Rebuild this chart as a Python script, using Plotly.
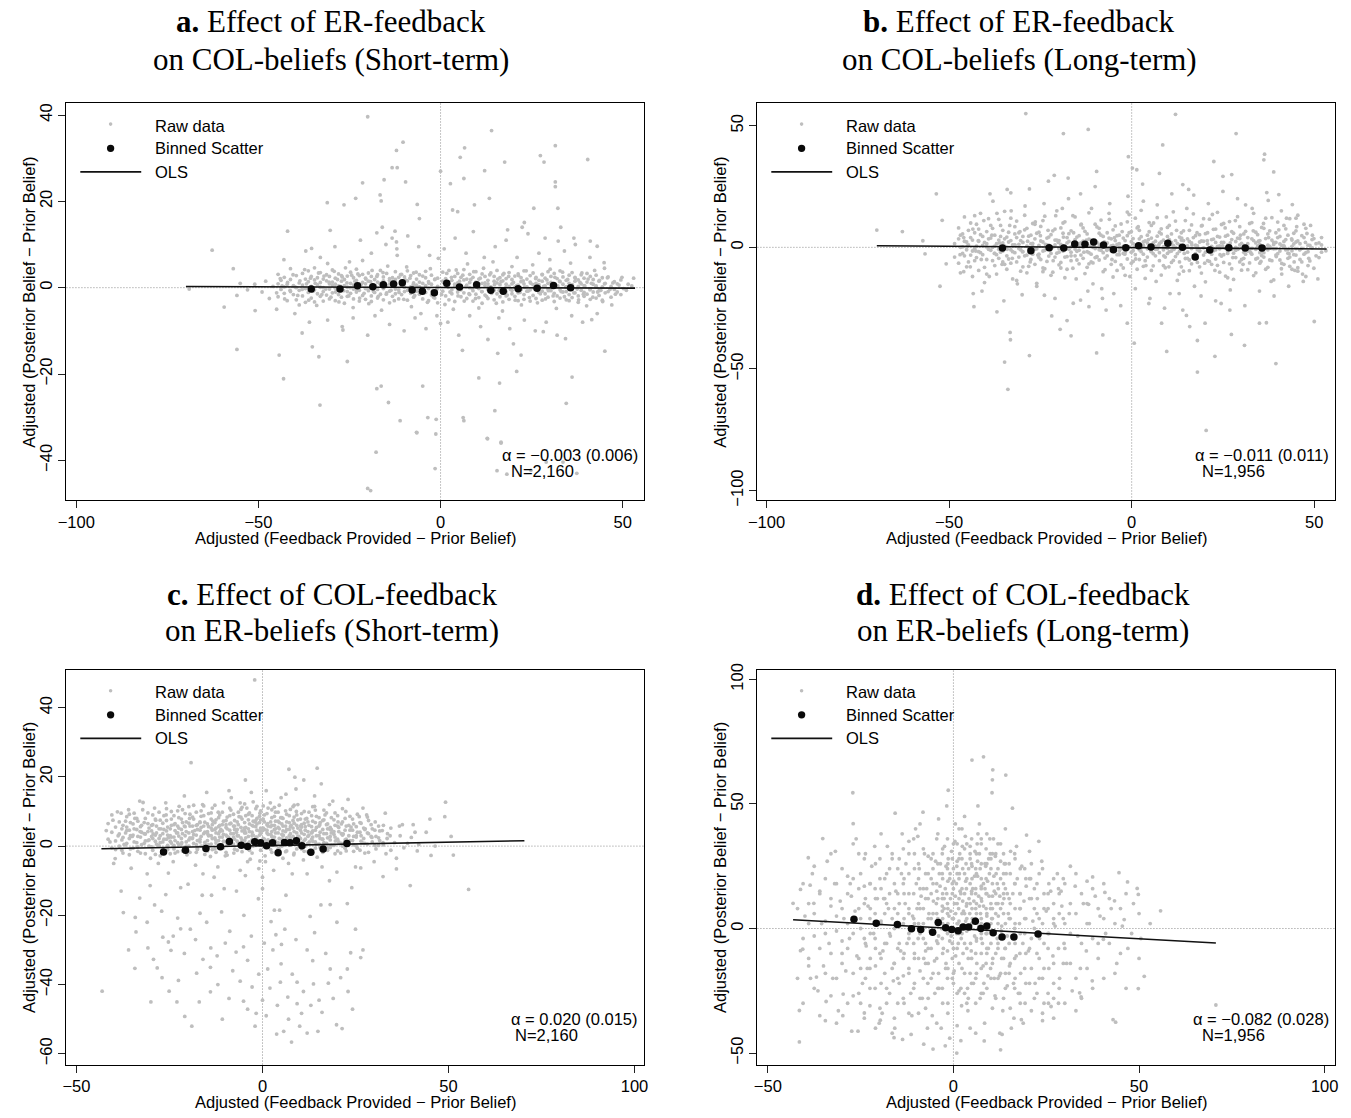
import plotly.graph_objects as go

# ================= DATA =================
# ---- Panel a: ER-feedback on COL-beliefs (Short-term) ----
bin_a_x = [-35.5, -27.6, -22.8, -18.6, -15.7, -12.9, -10.5, -7.8, -5.0, -1.7, 1.7, 5.2, 9.9, 13.8, 17.2, 21.3, 26.5, 31.0, 35.7]
bin_a_y = [-0.31, -0.31, 0.46, 0.23, 0.69, 0.84, 1.15, -0.53, -0.84, -1.15, 1.0, 0.15, 0.69, -0.61, -0.84, -0.23, -0.15, 0.53, 0.0]
ols_a_x = [-69.9, 53.4]
ols_a_y = [0.26, -0.11]
raw_a_out = [(-20.0,39.6),(-10.3,33.7),(-12.1,31.8),(6.6,32.4),(14.0,36.4),(31.5,32.9),(40.4,29.7),(27.4,30.6),(28.4,29.1),
 (17.6,29.1),(5.4,30.2),(12.1,27.1),(-13.3,27.8),(-11.9,27.8),(-21.4,24.3),(-9.6,24.5),(0.0,27.0),(6.4,25.3),(2.7,24.1),
 (-15.5,25.0),(31.5,24.5),(31.5,23.4),(-31.1,19.7),(-26.5,19.2),(-23.3,20.7),(-16.6,21.5),(-16.3,20.1),(-6.4,19.3),(13.4,20.7),
 (9.3,19.2),(32.2,18.4),(25.6,18.4),(23.0,15.1),(22.4,14.0),(-5.8,16.0),(3.3,18.0),(4.7,17.6),(-42.0,13.1),(-30.3,13.3),
 (-17.5,12.7),(-12.5,13.1),(-12.1,10.6),(-13.3,11.5),(18.4,13.4),(28.7,11.5),(32.3,10.8),(36.6,11.5),(41.1,10.8),(43.0,9.6),
 (-62.7,8.7),(-56.9,4.4),(-35.4,9.1),(44.9,5.8),(49.8,2.4),(53.0,2.2),(-69.0,-0.3),(-55.9,-1.8),(-59.4,-4.5),(-50.9,-5.3),
 (-55.9,-14.3),(-44.3,-15.6),(-43.1,-21.1),(-33.1,-27.2),(-33.4,-16.0),(-35.2,-13.7),(-25.6,-17.1),(-26.8,-9.8),(-17.5,-23.4),
 (-16.3,-22.8),(-14.3,-26.6),(-11.1,-30.8),(-17.7,-38.1),(-20.0,-46.5),(-19.2,-47.0),(-6.6,-33.5),(-4.9,-22.8),(-3.5,-30.1),(-1.2,-30.5),
 (-1.5,-41.9),(6.2,-30.1),(6.4,-30.8),(0.0,-8.3),(10.5,-20.9),(12.9,-35.0),(14.9,-28.5),(16.2,-22.1),(16.6,-35.8),(15.7,-15.2),
 (24.8,-42.3),(20.9,-19.4),(22.1,-15.6),(28.2,-10.2),(34.3,-11.8),(34.5,-26.8),(36.1,-20.7),(45.1,-14.7),(41.5,-7.4),
 (-6.5,-33.6),(-1.3,-33.9),(12.8,-34.9),(16.6,-36.0),(15.5,-42.4),(18.2,-43.2),(37.4,-43.0),(29.0,-40.4),(33.6,-40.4),
 (-55,1.0),(-53,-0.5),(-51,0.8),(-49,-1.0),(-48,1.5),(-47,-2.5),(-46,0.3)]
raw_a_core = [(-45,-1.2),(-44,2.1),(-43.5,0.4),(-42.8,-2.6),(-42,1.2),(-41.3,-0.6),(-40.5,3.0),(-40,0.2),(-39.2,-1.8),(-38.6,1.6),
 (-38,-0.4),(-37.3,4.2),(-36.8,0.9),(-36.2,-2.9),(-35.7,2.2),(-35,-0.8),(-34.4,1.0),(-34,-4.1),(-33.5,3.4),(-33,0.1),(-32.6,-1.6),
 (-32,2.7),(-31.5,-0.3),(-31,5.6),(-30.6,1.3),(-30.1,-2.2),(-29.7,0.6),(-29.2,3.8),(-28.8,-1.0),(-28.3,1.9),(-27.9,-3.3),(-27.4,0.3),
 (-27,2.5),(-26.6,-0.7),(-26.1,4.6),(-25.7,1.1),(-25.2,-1.9),(-24.8,0.0),(-24.4,2.9),(-24,-4.6),(-23.5,1.5),(-23.1,-0.4),(-22.7,3.2),
 (-22.2,-2.4),(-21.8,0.8),(-21.4,6.3),(-21,-1.3),(-20.5,2.0),(-20.1,-0.2),(-19.7,-3.7),(-19.2,1.4),(-18.8,4.0),(-18.4,-0.9),(-17.9,0.5),
 (-17.5,2.6),(-17.1,-2.0),(-16.6,1.0),(-16.2,-5.2),(-15.8,3.5),(-15.3,0.2),(-14.9,-1.5),(-14.5,5.0),(-14,1.7),(-13.6,-0.6),(-13.2,2.3),
 (-12.7,-3.0),(-12.3,0.9),(-11.9,7.5),(-11.4,-1.1),(-11,3.0),(-10.6,0.4),(-10.1,-2.7),(-9.7,1.8),(-9.3,4.8),(-8.8,-0.3),(-8.4,2.2),
 (-8,-4.4),(-7.5,0.7),(-7.1,-1.8),(-6.7,3.6),(-6.2,-0.1),(-5.8,1.3),(-5.4,-6.0),(-4.9,2.7),(-4.5,-1.2),(-4.1,0.5),(-3.6,-3.4),(-3.2,1.0),
 (-2.8,4.4),(-2.3,-0.8),(-1.9,-2.2),(-1.5,2.0),(-1,-0.3),(-0.6,6.8),(0.3,-1.6),(0.8,1.2),(1.2,-3.9),(1.7,3.3),(2.1,0.1),(2.6,-1.0),
 (3,2.4),(3.5,-5.0),(3.9,0.8),(4.3,4.1),(4.8,-1.9),(5.2,1.5),(5.6,-0.5),(6.1,2.9),(6.5,-3.1),(7,0.3),(7.4,5.5),(7.8,-1.4),(8.3,1.9),
 (8.7,-0.2),(9.1,3.7),(9.6,-2.5),(10,0.6),(10.5,-4.7),(10.9,2.2),(11.3,-0.9),(11.8,4.5),(12.2,1.1),(12.6,-2.0),(13.1,0.2),(13.5,3.0),
 (14,-1.3),(14.4,6.0),(14.8,0.7),(15.3,-3.6),(15.7,2.0),(16.1,-0.6),(16.6,1.4),(17,-5.4),(17.4,3.3),(17.9,0.0),(18.3,-1.7),(18.7,2.6),
 (19.2,-0.4),(19.6,4.9),(20,1.2),(20.5,-2.9),(20.9,0.5),(21.4,2.8),(21.8,-1.1),(22.2,-4.0),(22.7,1.6),(23.1,0.1),(23.5,3.9),(24,-0.8),
 (24.4,-2.3),(24.8,1.0),(25.3,5.3),(25.7,-0.2),(26.1,2.1),(26.6,-3.5),(27,0.7),(27.4,-1.4),(27.9,3.1),(28.3,0.3),(28.8,-2.6),(29.2,1.8),
 (29.6,-0.7),(30.1,4.3),(30.5,0.9),(30.9,-1.9),(31.4,2.4),(31.8,-4.8),(32.2,0.4),(32.7,1.5),(33.1,-0.9),(33.5,3.6),(34,-2.1),(34.4,0.2),
 (34.9,1.9),(35.3,-3.0),(35.7,5.7),(36.2,0.6),(36.6,-1.2),(37,2.2),(37.5,-0.3),(37.9,-2.8),(38.3,1.2),(38.8,3.4),(39.2,-1.5),(39.6,0.4),
 (40.1,-4.2),(40.5,2.0),(41,-0.5),(41.4,1.0),(41.8,-2.2),(42.3,4.0),(42.7,0.2),(43.1,-1.0),(43.6,1.7),(44,-0.6),(44.5,-3.2),(45,0.9),
 (45.8,2.3),(46.5,-0.4),(47.3,1.1),(48,-1.5),(49,0.6),(50.2,-0.2),(51.5,0.8)]
raw_a_mid = [(-43,6.5),(-40,-6),(-37,8.5),(-36,-8),(-33,7),(-31,-7.5),(-29,9.5),(-27,-9),(-25,6),(-24,-7),(-22,11),(-20,-11),(-19,8),
 (-18,-6.5),(-15,10),(-14,-8.5),(-12,9),(-10,-10),(-9,12),(-7,-7),(-6,9.5),(-4,-9.5),(-3,7.5),(-1,-6.5),(1,9),(2,-8),(4,11.5),(5,-11),
 (7,8),(8,-6.5),(9,13),(11,-9),(12,7),(13,-12),(15,9.5),(16,-7),(18,11),(19,-9.5),(21,7),(23,-7.5),(24,12.5),(26,-10),(27,8),(29,-8),
 (30,6.5),(32,-11),(34,8.5),(36,-6.5),(37,10),(39,-8),(41,7),(43,-6),(45,4.5),(47,-4),(-38,-10.5),(-45,-5),(20,-13),(-16,14),(6,-14.5),(33,14)]
raw_a_cols = [(-44.6,[0.9,-2.1,3.1]),(-43.8,[-0.4,1.7]),(-42.9,[2.4,-1.3,0.2]),(-42.1,[-3.0,0.8]),(-41.2,[1.9,-0.9,4.4]),(-40.4,[-1.6,0.5]),
 (-39.6,[2.8,-2.8,0.0]),(-38.8,[1.1,-0.6,-4.0]),(-37.9,[3.3,-1.9,0.6]),(-37.1,[-0.2,2.0,-3.4]),(-36.3,[1.4,-1.1,3.9]),(-35.5,[0.3,-2.4,2.6]),
 (-34.6,[-0.5,1.8,-3.3,4.6]),(-33.8,[2.3,-1.4,0.7]),(-33.0,[-2.0,1.2,3.5]),(-32.2,[0.0,-3.1,2.0,-0.9]),(-31.3,[1.6,-1.7,3.0]),(-30.5,[-0.3,2.6,-2.6,0.9]),
 (-29.7,[1.3,-1.2,4.1]),(-28.9,[-0.1,2.2,-3.0,0.8]),(-28.0,[3.2,-1.6,0.4]),(-27.2,[-0.7,1.5,-2.2,2.8]),(-26.4,[0.5,-3.6,1.9]),(-25.6,[2.7,-0.9,-2.0,0.1]),
 (-24.7,[-1.3,1.0,3.6]),(-23.9,[0.6,-2.6,2.3,-0.3]),(-23.1,[1.7,-1.0,4.3]),(-22.3,[-0.6,2.8,-3.1,0.9]),(-21.4,[1.2,-1.8,3.1]),(-20.6,[-0.2,0.9,-2.7,2.2]),
 (-19.8,[3.4,-0.7,1.5]),(-19.0,[-1.9,0.4,2.6,-3.2]),(-18.1,[1.9,-1.1,0.0]),(-17.3,[-0.4,3.0,-2.4,1.3]),(-16.5,[0.8,-1.5,4.0]),(-15.7,[-2.8,1.6,-0.2,2.5]),
 (-14.8,[0.5,-1.2,3.3]),(-14.0,[-0.8,2.1,-3.5,0.9]),(-13.2,[1.4,-2.0,0.3]),(-12.4,[-0.3,3.7,-1.4,1.9]),(-11.5,[2.4,-0.5,-2.6]),(-10.7,[0.7,-1.6,3.1,1.2]),
 (-9.9,[-0.9,2.5,0.1]),(-9.1,[1.6,-2.9,-0.6,3.9]),(-8.2,[0.2,2.8,-1.3]),(-7.4,[-2.2,1.1,3.4]),(-6.6,[0.6,-0.8,2.0]),(-5.8,[-1.5,3.0,0.2]),
 (-4.9,[1.0,-2.6,-0.4]),(-4.1,[2.3,-1.1,3.8]),(-3.3,[-0.2,1.4,-3.0]),(-2.5,[0.8,-1.7,2.9]),(-1.6,[-0.9,1.9,-2.4]),(-0.8,[0.3,-3.5,2.2]),
 (0.6,[1.5,-0.8,3.6]),(1.4,[-1.9,0.5,2.1]),(2.3,[0.9,-2.8,4.0]),(3.1,[-0.5,1.7,-1.4]),(3.9,[2.6,-3.2,0.3]),(4.7,[-1.0,1.1,3.3]),
 (5.6,[0.4,-2.1,2.4,-0.3]),(6.4,[1.8,-1.2,4.2]),(7.2,[-2.5,0.6,2.0]),(8.0,[0.0,3.1,-1.6,1.2]),(8.9,[-0.7,2.4,-3.1]),(9.7,[1.3,-1.5,0.4,3.7]),
 (10.5,[-0.2,2.0,-2.3]),(11.4,[1.0,-0.9,3.2,-3.6]),(12.2,[-1.7,0.5,2.6]),(13.0,[0.9,-2.5,1.7,-0.4]),(13.8,[3.4,-1.1,0.2]),(14.7,[-0.6,1.5,-2.8,2.6]),
 (15.5,[1.1,-1.4,4.0]),(16.3,[-0.3,2.3,-2.1,0.7]),(17.1,[1.6,-3.3,3.0]),(18.0,[-0.9,0.8,2.1,-1.9]),(18.8,[0.3,-2.7,3.5]),(19.6,[1.9,-0.6,-1.4,0.9]),
 (20.4,[-2.0,2.7,0.1]),(21.3,[0.6,-1.2,3.2,-3.0]),(22.1,[1.4,-0.4,2.3]),(22.9,[-1.6,0.9,-2.7,3.9]),(23.7,[0.2,2.0,-0.8]),(24.6,[-3.1,1.3,2.8,-0.5]),
 (25.4,[0.7,-1.8,3.4]),(26.2,[-0.2,2.4,-2.5,1.0]),(27.0,[1.7,-1.1,0.3]),(27.9,[-0.8,3.0,-2.9,1.5]),(28.7,[0.4,-1.4,2.2]),(29.5,[-2.2,1.0,3.7,-0.3]),
 (30.3,[1.2,-0.7,2.6]),(31.2,[-1.3,0.6,-3.2,3.3]),(32.0,[2.1,-1.9,0.2]),(32.8,[-0.5,1.4,3.9,-2.4]),(33.6,[0.8,-1.0,2.5]),(34.5,[-2.8,1.7,0.1,-0.9]),
 (35.3,[2.9,-1.6,1.0]),(36.1,[-0.4,0.7,-2.3,3.5]),(36.9,[1.5,-1.2,2.4]),(37.8,[-1.9,0.3,-3.4,1.8]),(38.6,[0.9,-0.6,3.0]),(39.4,[-1.1,2.2,-2.0,0.5]),
 (40.2,[1.3,-1.5,3.3]),(41.1,[-0.3,2.6,-2.7]),(41.9,[0.8,-1.0,1.9]),(42.7,[-2.4,0.4,2.9]),(43.5,[1.5,-0.7,-1.8]),(44.4,[0.2,2.3,-2.9]),
 (45.2,[-1.2,1.0]),(46.0,[2.5,-0.9]),(46.8,[0.3,-2.2]),(47.7,[1.4,-0.4]),(48.5,[-1.0,0.9]),(49.5,[1.8,-1.6]),(51,[-0.6]),(52.5,[0.4])]

# ---- Panel b: ER-feedback on COL-beliefs (Long-term) ----
bin_b_x = [-35.4, -27.6, -22.6, -18.6, -15.6, -12.8, -10.4, -7.7, -5.0, -1.6, 1.9, 5.3, 9.9, 13.9, 17.4, 21.4, 26.6, 31.1, 35.7]
bin_b_y = [-0.27, -1.36, -0.14, -0.27, 1.36, 1.22, 2.17, 0.95, -0.95, -0.14, 0.68, 0.14, 1.63, 0.0, -3.94, -1.09, -0.14, -0.27, -0.27]
ols_b_x = [-69.8, 53.4]
ols_b_y = [0.68, -0.68]
raw_b_out = [(-29.0,55.0),(12.0,54.7),(-11.9,48.5),(-18.7,46.8),(28.6,46.8),(8.5,42.1),(36.4,38.3),(-0.9,37.3),(0.2,32.6),(-9.6,31.2),
 (7.6,30.4),(1.4,31.9),(38.9,31.0),(22.5,35.3),(27.4,29.9),(25.0,29.2),(36.2,36.0),(-21.2,29.6),(-22.8,27.2),(-17.4,28.5),(-53.5,22.0),
 (-34.1,23.8),(-33.1,22.4),(-38.8,22.0),(14.0,25.8),(15.6,23.8),(40.3,21.7),(37.4,19.3),(44.0,17.6),(-51.9,11.1),(-69.8,7.1),(-62.8,6.5),
 (-57.2,2.7),(-56.6,-2.7),(-50.8,-6.8),(-52.5,-16.0),(-43.4,-19.0),(-43.2,-24.4),(-36.9,-26.5),(-33.3,-35.0),(-33.2,-38.0),(-34.8,-47.2),
 (-33.9,-58.4),(-28.0,-44.5),(-21.9,-28.2),(-19.6,-33.7),(-17.7,-30.1),(-16.6,-36.4),(-9.6,-43.4),(-7.9,-36.0),(0.7,-39.4),(-1.2,-31.2),
 (9.6,-42.8),(8.2,-31.2),(15.9,-32.6),(18.0,-38.3),(18.0,-51.3),(20.4,-75.3),(22.8,-44.8),(20.1,-31.2),(27.3,-35.8),(30.9,-40.3),
 (35.0,-31.2),(39.5,-47.8),(36.9,-31.0),(50.0,-30.5),(44.7,-9.5),(45.5,-8.4),(53.2,-1.4),(48.0,5.7),(26.9,-25.8),(24.5,-23.1),(14.0,-25.8),
 (-7.0,-25.8),(-14.0,-21.7),(-23.9,-19.7),(-31.5,-13.6),(-11.7,-24.4),(-4.9,-19.0),(4.7,-23.1),(10.5,-19.0)]
raw_b_core = [(-47,-3),(-46,4),(-45,0.5),(-44.2,-8),(-43.5,7.5),(-42.7,-1.5),(-42,2.8),(-41.2,-5),(-40.5,11),(-39.8,0.2),(-39,-12),
 (-38.3,5),(-37.6,-2.5),(-36.9,14),(-36.2,1.8),(-35.5,-7),(-34.8,3.5),(-34.1,-0.8),(-33.4,9),(-32.7,-4.5),(-32,1),(-31.3,-15),(-30.6,6.5),
 (-29.9,-1.8),(-29.2,17),(-28.5,2.5),(-27.8,-6),(-27.1,0.3),(-26.4,10.5),(-25.7,-3.2),(-25,4.8),(-24.3,-10),(-23.6,1.2),(-22.9,7),(-22.2,-1),
 (-21.5,-5.5),(-20.8,13),(-20.1,2),(-19.4,-8.5),(-18.7,4.2),(-18,-0.6),(-17.3,20),(-16.6,-3.5),(-15.9,6),(-15.2,-13),(-14.5,1.5),(-13.8,9.5),
 (-13.1,-2),(-12.4,3),(-11.7,-6.8),(-11,16),(-10.3,0.5),(-9.6,-4),(-8.9,7.8),(-8.2,-17),(-7.5,2.2),(-6.8,-1.2),(-6.1,11.5),(-5.4,-5),
 (-4.7,4),(-4,-9.5),(-3.3,0),(-2.6,6.5),(-1.9,-2.8),(-1.2,14.5),(-0.5,-12),(0.4,1.5),(1.1,-4.8),(1.8,8.5),(2.5,-0.4),(3.2,19),(3.9,-7.5),
 (4.6,3.2),(5.3,-1.6),(6,10),(6.7,-14),(7.4,0.8),(8.1,5.5),(8.8,-3.5),(9.5,12.5),(10.2,-8),(10.9,2),(11.6,-0.8),(12.3,7),(13,-11),
 (13.7,3.8),(14.4,-2.5),(15.1,16),(15.8,-5.2),(16.5,1),(17.2,-16),(17.9,6),(18.6,-1.5),(19.3,9),(20,-6.5),(20.7,2.8),(21.4,-0.2),
 (22.1,13.5),(22.8,-9.5),(23.5,4.5),(24.2,-3),(24.9,0.6),(25.6,8),(26.3,-12.5),(27,1.8),(27.7,-4.2),(28.4,11),(29.1,-0.8),(29.8,5),
 (30.5,-7),(31.2,17.5),(31.9,0),(32.6,-2.2),(33.3,6.8),(34,-10.5),(34.7,2.5),(35.4,-5.8),(36.1,9.8),(36.8,-0.5),(37.5,4),(38.2,-14),
 (38.9,1.2),(39.6,-3.8),(40.3,7.2),(41,-8.8),(41.7,0.4),(42.4,12),(43.1,-2.6),(43.8,3.5),(44.5,-6),(45.2,8.5),(46,-1),(46.8,-11),
 (47.6,2),(48.5,-4.5),(49.5,5),(51,-13),(52,1)]
raw_b_mid = [(-41,-18),(-38,19),(-35,-22),(-33,15),(-30,-19.5),(-28,24),(-26,-16),(-24,18),(-21,-21),(-19,16),(-16,-23),(-14,22),
 (-12,-18),(-10,25),(-8,-21),(-6,18),(-3,-24),(-1,21),(1,-17),(3,26),(5,-21),(7,17.5),(9,-25),(11,22),(13,-19),(15,-28),(17,21.5),
 (19,-20),(21,18),(23,-22),(25,23),(27,-17.5),(29,20),(31,-24),(33,16),(35,-18),(37,22.5),(39,-20),(41,15),(43,-16),(45,12),(47,-14),
 (-43,13),(-46,-10),(49,9)]
raw_b_cols = [(-48.5,[1.5,-4.0]),(-47.4,[-6.5,3.5,8.0]),(-46.3,[0.2,-2.5,5.5]),(-45.2,[-8.0,2.2,-1.0]),(-44.1,[4.0,-3.2,10.0]),(-43.0,[-0.5,6.0,-5.5]),
 (-41.9,[2.5,-1.8,-9.5,7.5]),(-40.8,[-3.0,0.8,4.5]),(-39.7,[6.5,-5.0,1.5,-11.0]),(-38.6,[-1.2,3.8,9.0]),(-37.5,[0.5,-7.5,5.0,-2.5]),(-36.4,[3.0,-0.8,-4.5,11.5]),
 (-35.3,[-6.0,1.8,7.0,-1.5]),(-34.2,[4.2,-3.5,0.0,-9.0]),(-33.1,[-1.0,2.8,-6.5,12.0]),(-32.0,[5.5,-2.2,0.8,8.5]),(-30.9,[-4.0,1.2,-0.5,6.0]),(-29.8,[2.0,-8.0,4.5,-1.8]),
 (-28.7,[-3.2,0.5,7.8,-10.5]),(-27.6,[1.5,-1.2,5.0,-5.0]),(-26.5,[-0.8,3.5,-7.0,9.5]),(-25.4,[6.2,-2.8,0.8,-4.2]),(-24.3,[-1.5,2.2,11.0,-8.5]),(-23.2,[3.8,-0.3,-5.8,1.0]),
 (-22.1,[-2.5,5.2,0.3,-11.5]),(-21.0,[1.0,-4.0,7.5,3.0]),(-19.9,[-0.5,2.8,-7.2,-2.0]),(-18.8,[5.8,-1.5,0.6,10.0]),(-17.7,[-3.8,1.8,-9.0,4.0]),(-16.6,[0.2,-2.0,6.8,-5.5]),
 (-15.5,[3.2,-0.7,-3.5,12.5]),(-14.4,[-6.8,1.0,4.8,-1.2]),(-13.3,[2.5,-4.5,0.0,8.0]),(-12.2,[-1.8,5.5,-8.2,1.5]),(-11.1,[0.8,-2.8,3.0,-6.0]),(-10.0,[-4.2,2.0,9.5,-0.5]),
 (-8.9,[1.2,-1.0,-5.2,5.8]),(-7.8,[-2.2,4.5,0.4,-10.0]),(-6.7,[6.0,-3.5,1.8,-0.8]),(-5.6,[-1.4,0.6,-7.0,3.5]),(-4.5,[2.8,-5.8,8.8,0.0]),(-3.4,[-3.0,1.5,-1.5,5.0]),
 (-2.3,[0.4,-8.5,3.8,-2.5]),(-1.2,[4.8,-0.2,-4.8,10.5]),(-0.1,[-2.0,2.3,6.5,-6.5]),(1.0,[1.0,-3.0,0.3,12.0]),(2.1,[-5.0,3.5,-1.0,7.0]),(3.2,[2.2,-7.8,0.8,-2.8]),
 (4.3,[-0.6,5.0,-4.0,1.8]),(5.4,[3.8,-1.8,9.0,-9.5]),(6.5,[-3.5,0.5,2.5,-0.8]),(7.6,[1.6,-5.5,6.2,-2.2]),(8.7,[-1.0,3.0,-7.5,0.2]),(9.8,[4.5,-2.5,-0.4,8.2]),
 (10.9,[-6.2,1.2,5.5,-1.5]),(12.0,[0.0,-3.8,2.8,10.8]),(13.1,[-1.6,4.2,-6.0,1.0]),(14.2,[2.8,-0.9,-9.8,6.8]),(15.3,[-4.5,0.6,3.5,-2.0]),(16.4,[1.8,-6.8,-0.5,9.2]),
 (17.5,[-2.6,4.8,0.9,-4.0]),(18.6,[5.2,-1.2,-8.0,2.2]),(19.7,[-0.2,2.5,-3.2,11.8]),(20.8,[-5.5,1.4,6.0,-1.0]),(21.9,[3.2,-2.8,0.4,-7.0]),(23.0,[-1.0,7.5,-4.8,2.0]),
 (24.1,[0.6,-0.6,4.2,-10.2]),(25.2,[-3.0,2.0,-6.2,9.8]),(26.3,[5.0,-1.8,1.0,-2.5]),(27.4,[-0.8,3.2,-8.8,6.5]),(28.5,[2.4,-4.2,0.0,-1.2]),(29.6,[-6.0,1.0,8.5,3.6]),
 (30.7,[0.8,-2.0,-4.5,5.5]),(31.8,[-1.5,4.0,-9.2,1.5]),(32.9,[3.5,-0.4,-2.8,10.2]),(34.0,[-4.8,1.8,6.2,-0.8]),(35.1,[1.2,-6.5,2.8,-2.2]),(36.2,[-2.2,0.2,-4.0,7.8]),
 (37.3,[5.5,-1.0,0.9,-8.2]),(38.4,[-0.4,3.0,-5.5,12.2]),(39.5,[2.0,-3.2,-0.5,6.0]),(40.6,[-5.2,1.4,4.5,-1.5]),(41.7,[0.6,-7.0,2.4,9.0]),(42.8,[-2.4,5.0,-0.8,-4.5]),
 (43.9,[3.0,-1.4,-9.0,0.4]),(45.0,[-0.5,2.2,6.8,-3.2]),(46.1,[1.5,-5.0,-0.9]),(47.2,[-2.8,4.0,9.5]),(48.3,[0.9,-1.8,-7.5]),(49.4,[3.2,-0.2]),(50.5,[-3.5,1.5]),(52,[-2,4])]
raw_b_cols2 = [(-46.9,[5.0,-10.5,0.0]),(-45.8,[-3.5,12.5,2.5]),(-44.7,[1.0,-6.0,7.0]),(-43.6,[-12.0,3.0,-1.5]),(-42.5,[9.5,-4.2,0.5]),(-41.4,[-2.2,14.0,5.2]),
 (-40.3,[-8.2,2.0,-14.5]),(-39.2,[3.5,-0.8,11.8]),(-38.1,[-5.5,7.8,0.0]),(-37.0,[1.5,-11.0,-3.0]),(-35.9,[9.0,-2.0,4.5]),(-34.8,[-7.0,0.5,14.8]),
 (-33.7,[2.2,-4.8,6.2]),(-32.6,[-13.0,1.0,-1.8]),(-31.5,[4.0,10.8,-6.0]),(-30.4,[-1.0,2.8,-9.8]),(-29.3,[7.2,-3.5,13.2]),(-28.2,[0.0,-7.8,4.6]),
 (-27.1,[-2.8,9.8,1.6]),(-26.0,[5.8,-14.8,-0.6]),(-24.9,[-5.0,2.6,8.6]),(-23.8,[12.8,-1.2,-8.8]),(-22.7,[0.9,4.2,-3.6]),(-21.6,[-10.2,6.8,0.0]),
 (-20.5,[3.0,-2.4,15.0]),(-19.4,[-6.2,1.2,8.0]),(-18.3,[10.5,-4.0,-12.5]),(-17.2,[-0.8,2.4,5.6]),(-16.1,[-8.6,13.0,0.6]),(-15.0,[4.2,-1.6,-5.2]),
 (-13.9,[-3.2,9.2,1.8]),(-12.8,[0.4,-10.8,6.6]),(-11.7,[14.2,-2.2,3.4]),(-10.6,[-6.4,0.0,-15.0]),(-9.5,[2.0,8.4,-3.8]),(-8.4,[-1.2,5.0,11.2]),
 (-7.3,[-9.2,1.4,-4.4]),(-6.2,[3.8,-0.4,14.0]),(-5.1,[-12.2,7.2,0.8]),(-4.0,[1.2,-3.0,4.8]),(-2.9,[9.6,-7.2,-0.6]),(-1.8,[-2.0,2.8,-11.5]),
 (-0.7,[6.0,0.2,13.5]),(0.4,[-5.8,3.6,-1.4]),(1.5,[8.0,-9.0,0.5]),(2.6,[-1.8,4.4,15.2]),(3.7,[2.6,-5.5,-12.8]),(4.8,[-0.4,10.2,6.4]),
 (5.9,[-7.6,1.8,-2.6]),(7.0,[4.6,-0.8,12.2]),(8.1,[-11.4,2.2,7.6]),(9.2,[0.0,-4.0,-8.4]),(10.3,[9.0,3.2,-1.8]),(11.4,[-5.4,14.6,0.8]),
 (12.5,[1.6,-2.6,-13.6]),(13.6,[-8.0,6.0,3.0]),(14.7,[11.0,-0.2,-4.6]),(15.8,[2.4,-9.6,7.0]),(16.9,[-3.4,4.0,13.8]),(18.0,[0.6,-6.2,-1.0]),
 (19.1,[-10.6,8.8,2.6]),(20.2,[5.6,-2.0,-14.2]),(21.3,[-0.6,11.6,-5.8]),(22.4,[3.4,-1.4,7.4]),(23.5,[-7.4,0.4,14.4]),(24.6,[9.4,-3.6,2.0]),
 (25.7,[-11.8,4.6,-0.4]),(26.8,[1.0,-6.8,10.6]),(27.9,[-2.4,5.8,-13.2]),(29.0,[12.6,-0.6,3.8]),(30.1,[-5.0,1.6,-9.4]),(31.2,[6.6,-2.8,0.2]),
 (32.3,[-1.0,9.8,-6.4]),(33.4,[2.8,-11.6,14.0]),(34.5,[-4.4,0.6,5.2]),(35.6,[8.2,-1.8,-3.4]),(36.7,[-9.0,3.6,12.0]),(37.8,[0.4,-5.2,6.8]),
 (38.9,[-13.4,2.0,-0.6]),(40.0,[4.0,-2.6,10.4]),(41.1,[-6.6,0.8,-11.0]),(42.2,[7.6,-1.0,3.2]),(43.3,[-4.0,11.8,-7.8]),(44.4,[1.4,-3.0,5.8]),
 (45.5,[-9.8,2.6,13.2]),(46.6,[4.8,-0.4,-6.0]),(47.7,[-2.2,7.8,-12.0]),(48.8,[0.8,-5.6]),(49.9,[-8.6,3.6]),(51.3,[1.8,-4.2])]

# ---- Panel c: COL-feedback on ER-beliefs (Short-term) ----
bin_c_x = [-26.6, -20.7, -15.2, -11.3, -8.9, -5.7, -4.0, -2.1, -0.5, 1.1, 2.7, 4.2, 5.9, 7.4, 9.1, 10.6, 13.0, 16.3, 22.7]
bin_c_y = [-1.7, -1.23, -0.66, -0.19, 1.33, 0.28, -0.09, 1.23, 0.95, 0.09, 0.95, -1.9, 1.04, 0.95, 1.52, 0.09, -1.8, -0.85, 0.76]
ols_c_x = [-43.3, 70.4]
ols_c_y = [-0.76, 1.55]
raw_c_out = [(-2.1,48.0),(-19.2,24.1),(14.7,22.5),(7.1,22.2),(8.7,19.9),(11.1,19.1),(15.8,18.0),(-4.6,19.1),(-32.1,12.6),(49.2,12.7),
 (-39.0,9.9),(37.6,6.2),(40.5,6.2),(45.0,7.8),(49.0,8.5),(50.7,2.8),(51.3,-2.6),(45.3,-2.7),(46.4,0.0),(41.6,-1.4),(36.0,-6.6),(32.4,-8.8),
 (39.7,-11.4),(55.4,-12.5),(26.4,-6.3),(-39.6,-3.6),(-43.1,-41.9),(-37.4,-19.2),(-34.2,-20.6),(-34.0,-24.8),(-34.3,-35.3),(-30.8,-29.4),
 (-29.3,-32.7),(-28.3,-35.2),(-25.1,-41.9),(-22.6,-38.8),(-20.9,-49.2),(-26.8,-26.3),(-25.3,-27.7),(-24.6,-30.1),(-27.1,-18.8),(-22.8,-20.8),
 (-22.0,-23.9),(-19.4,-24.0),(-16.8,-19.4),(-16.2,-14.2),(-16.0,-32.7),(-17.7,-36.7),(-14.0,-42.1),(-10.8,-50.0),(-12.2,-31.7),(-13.9,-29.4),
 (-8.8,-24.6),(-7.1,-30.6),(-5.1,-29.1),(-5.1,-44.8),(-4.0,-47.1),(-2.8,-40.7),(-1.7,-48.3),(0.0,-44.5),(1.4,-35.5),(2.3,-21.8),(3.2,-18.5),
 (4.6,-18.5),(3.6,-25.6),(5.1,-28.4),(3.8,-54.3),(5.7,-53.5),(7.8,-56.6),(4.8,-39.3),(6.8,-43.6),(9.3,-45.5),(10.5,-48.3),(12.0,-54.0),
 (14.9,-53.5),(18.2,-35.5),(13.5,-33.1),(15.2,-44.5),(19.9,-51.6),(21.4,-52.7),(24.2,-47.1),(23.7,-30.8),(26.4,-32.2),(22.8,-35.5),
 (12.8,-20.3),(15.7,-17.0),(18.2,-16.9),(22.8,-16.6),(6.3,-14.2),(-1.1,-15.2),(0.0,-12.3),(-4.6,-8.5),(-10.3,-12.3),(-13.7,-14.2),
 (-30.2,-11.4),(-35.3,-6.4),(-25.3,-7.8),(-4.0,-4.5),(9.3,-39.3),(-0.7,-4.3),(13.7,-39.8),(17.7,-39.6)]
raw_c_tail = [(-33,-15),(-31,-22),(-29,-17),(-27,-38),(-26,-14),(-24,-26),(-23,-45),(-21,-31),(-20,-11),(-18,-27),(-17,-45),(-15,-22),
 (-14,-35),(-13,-9),(-12,-40),(-11,-19),(-10,-28),(-9,-44),(-8,-36),(-7,-13),(-6,-39),(-5,-20),(-4,-33),(-3,-26),(-2,-52),(-1,-37),
 (0.5,-28),(1,-49),(2,-41),(2.8,-30),(4,-46),(5,-34),(6,-24),(7,-50),(8,-37),(9,-27),(10,-52),(11,-42),(12,-30),(13,-46),(14,-25),
 (16,-48),(17,-31),(19,-44),(20,-22),(21,-38),(23,-42),(25,-24),(27,-30),(-36,-30),(-38,-13),(-30,-45),(-19,-52),(-16,-8),(0,-9),
 (8,-8),(18,-10),(-22,-12),(24,-12),(-28,-5)]
raw_c_core = [(-42,4.5),(-41,1.2),(-40.2,7.5),(-39.5,-1),(-38.8,3),(-38,9.5),(-37.2,0.5),(-36.5,5.5),(-35.8,-2.5),(-35,2.8),(-34.3,8),
 (-33.6,-0.2),(-32.9,4.2),(-32.2,10.5),(-31.5,1.5),(-30.8,6.5),(-30.1,-3.5),(-29.4,3.5),(-28.7,7.5),(-28,0.2),(-27.3,5),(-26.6,-1.8),
 (-25.9,9),(-25.2,2.5),(-24.5,6),(-23.8,-0.8),(-23.1,3.8),(-22.4,11.5),(-21.7,1),(-21,5.8),(-20.3,-2.5),(-19.6,8),(-18.9,2.2),(-18.2,4.5),
 (-17.5,-1),(-16.8,6.8),(-16.1,12),(-15.4,0.5),(-14.7,3.5),(-14,-3),(-13.3,7.2),(-12.6,1.8),(-11.9,9.8),(-11.2,4.8),(-10.5,-0.5),(-9.8,6.2),
 (-9.1,2.5),(-8.4,14),(-7.7,-2),(-7,4),(-6.3,8.5),(-5.6,0.8),(-4.9,5.2),(-4.2,11),(-3.5,-1.2),(-2.8,3),(-2.1,7),(-1.4,1.5),(-0.7,9.5),
 (0,4.5),(0.7,-2.8),(1.4,6.5),(2.1,12.5),(2.8,2),(3.5,5),(4.2,-0.8),(4.9,8.2),(5.6,3.2),(6.3,15),(7,0.5),(7.7,6),(8.4,-2.5),(9.1,10),
 (9.8,2.8),(10.5,5.5),(11.2,-1.5),(11.9,8),(12.6,1.2),(13.3,4),(14,11.5),(14.7,-3.2),(15.4,6.2),(16.1,2),(16.8,9),(17.5,-0.5),(18.2,4.8),
 (18.9,13),(19.6,1.5),(20.3,7),(21,-2),(21.7,3.5),(22.4,10),(23.1,0.8),(23.8,5.5),(24.5,-1.5),(25.2,3),(26,8.5),(26.8,1),(27.6,5),
 (28.5,-1.8),(29.4,2.5),(30.3,7),(31.2,0.2),(32.2,4.5),(33.2,-2.2),(34.3,3),(35.5,1),(36.8,5.8),(38,-0.5),(40,2.5),(42,0.5),(44,4),
 (-1.5,11.5),(2.5,10.5),(-6,12.5),(5.5,-3.5),(-10,-2.8),(8.5,11.8),(-3.3,-3.8),(0.8,-4.5),(11,-4),(-12.5,-1.8)]
raw_c_mid = [(-36,10.5),(-33,13),(-29,11),(-26,12.5),(-24,-4.5),(-21,14.5),(-18,-5.5),(-15,15.5),(-12,-6),(-9,16),(-6,-7),(-3,15.5),
 (-1,-6.5),(1,16),(3,-7),(5,14),(7,-5),(9,16.5),(12,-8),(14,14.5),(16,-6),(18,12),(20,-7.5),(23,13.5),(25,-6),(27,11),(30,-4.5),
 (33,9.5),(-40,-5),(-31,-8),(28,9),(36,-3.5)]
raw_c_cols = [(-41.5,[2.0,6.5]),(-40.5,[4.0,-0.5,9.0]),(-39.5,[1.5,5.5]),(-38.5,[7.0,0.0,3.5]),(-37.5,[2.5,-2.0,6.0]),(-36.5,[0.8,4.5,8.5]),
 (-35.5,[3.0,6.8,-0.8]),(-34.5,[1.2,5.0,9.5]),(-33.5,[2.8,-1.5,7.2]),(-32.5,[0.4,4.0,6.0]),(-31.5,[3.5,8.0,-2.2]),(-30.5,[1.8,5.2,0.0]),
 (-29.5,[6.2,2.2,-1.2,9.0]),(-28.5,[3.8,0.6,5.8]),(-27.5,[1.0,7.5,3.0,-2.8]),(-26.5,[4.8,2.0,8.8]),(-25.5,[0.2,5.5,3.2,-1.0]),(-24.5,[2.6,7.8,0.9,10.0]),
 (-23.5,[4.5,1.6,-2.0,6.5]),(-22.5,[2.9,0.5,8.2,5.2]),(-21.5,[3.6,-1.4,6.8,10.5]),(-20.5,[1.2,4.2,7.0,0.0]),(-19.5,[2.4,5.8,-1.8,9.2]),(-18.5,[3.3,0.8,7.8,11.8]),
 (-17.5,[1.6,4.8,6.2,-0.6]),(-16.5,[2.8,0.0,8.6,5.4,10.2]),(-15.5,[1.1,4.0,6.9,-2.4]),(-14.5,[3.0,5.6,9.4,0.4]),(-13.5,[2.2,-1.0,6.2,4.6,11.0]),(-12.5,[0.9,3.8,7.6,5.2]),
 (-11.5,[2.6,6.0,-0.6,9.0,4.2]),(-10.5,[1.4,3.4,7.2,12.5]),(-9.5,[5.0,0.2,8.4,2.8,-2.6]),(-8.5,[3.6,6.6,1.0,10.4]),(-7.5,[2.0,4.8,7.4,-0.9,5.8]),(-6.5,[0.6,3.0,9.8,6.2]),
 (-5.5,[4.4,1.8,7.8,-1.6,11.2]),(-4.5,[2.4,5.4,0.6,8.8,3.8]),(-3.5,[6.4,1.2,4.2,9.6,-0.4]),(-2.5,[3.2,0.0,5.8,7.2,12.8]),(-1.5,[1.6,4.6,8.0,2.6,6.4]),(-0.5,[3.6,-1.2,5.2,10.2,7.6]),
 (0.5,[2.0,4.8,7.0,0.6,9.0]),(1.5,[3.4,5.8,-0.2,11.0,1.8]),(2.5,[6.0,2.8,4.2,8.2,-1.8]),(3.5,[1.4,7.2,3.8,9.8,0.2]),(4.5,[5.0,2.2,6.8,-0.8,11.8]),(5.5,[3.0,8.0,1.2,5.8,4.4]),
 (6.5,[2.4,4.8,9.2,-1.4,7.0]),(7.5,[0.8,3.6,5.6,10.6,2.2]),(8.5,[4.2,6.6,1.6,-2.0,8.4]),(9.5,[2.8,5.2,0.4,7.6,12.0]),(10.5,[3.8,1.0,6.2,9.4,-0.8]),(11.5,[2.0,4.6,7.8,0.0,5.6]),
 (12.5,[3.2,6.0,-1.6,9.8]),(13.5,[1.4,4.4,7.2,2.6,11.4]),(14.5,[5.4,0.6,3.0,8.6]),(15.5,[2.2,6.8,-0.4,4.0]),(16.5,[3.6,1.0,7.6,10.4]),(17.5,[5.0,2.4,-1.2,6.4]),
 (18.5,[0.2,3.8,8.2,4.8]),(19.5,[2.6,6.0,-2.2,9.6]),(20.5,[4.2,1.2,5.4]),(21.5,[0.0,3.2,7.0,10.8]),(22.5,[2.0,5.8,-1.4]),(23.5,[4.6,1.6,8.6]),
 (24.5,[2.8,6.4,0.4]),(25.5,[-0.6,4.0,9.2]),(26.5,[3.0,1.4,6.6]),(27.5,[0.8,4.8,-2.0]),(28.5,[3.6,7.4]),(29.5,[1.2,5.0]),(30.5,[2.8,-0.8]),(31.5,[4.4,1.6]),
 (32.5,[0.4,6.0]),(33.5,[2.2]),(34.5,[-1.2,5.2]),(37,[3.0]),(39,[0.8]),(41,[4.0])]
raw_c_cols2 = [(-37.8,[1.8,5.0,-1.2]),(-36.8,[3.8,7.2,0.4]),(-35.8,[2.2,4.6,9.2]),(-34.8,[-0.6,3.2,6.4]),(-33.8,[4.8,1.0,8.0]),(-32.8,[2.6,-2.0,5.6]),
 (-31.8,[0.8,6.8,3.6]),(-30.8,[4.2,9.6,1.6]),(-29.8,[2.8,-0.2,6.0,4.4]),(-28.8,[7.8,1.4,3.2,-2.4]),(-27.8,[5.0,2.2,9.8,0.0]),(-26.8,[3.6,6.6,-1.0,1.2]),
 (-25.8,[4.4,7.4,2.0,10.8]),(-24.8,[1.4,5.0,3.0,-2.2]),(-23.8,[6.2,8.8,2.6,0.2]),(-22.8,[3.8,1.0,5.8,-1.6,10.2]),(-21.8,[2.2,4.8,7.8,0.6]),(-20.8,[5.6,3.0,-0.8,9.4]),
 (-19.8,[1.8,6.6,3.8,0.0,11.4]),(-18.8,[4.2,2.4,8.4,5.8]),(-17.8,[6.0,0.4,3.2,9.8,-1.8]),(-16.8,[2.0,4.6,7.0,1.2]),(-15.8,[3.6,5.8,0.0,8.8,11.6]),(-14.8,[1.6,4.2,6.4,-1.4]),
 (-13.8,[3.0,7.8,5.2,0.6,9.6]),(-12.8,[2.4,4.8,6.8,-0.8,11.8]),(-11.8,[5.6,1.6,8.2,3.6]),(-10.8,[0.4,4.4,6.2,9.8,2.6]),(-9.8,[3.2,7.4,1.2,5.4,-1.8]),(-8.8,[2.0,4.6,8.8,6.4,11.0]),
 (-7.8,[0.6,3.6,5.8,9.2,2.6]),(-6.8,[4.8,1.4,7.0,3.0,-1.2]),(-5.8,[2.4,5.4,8.4,0.4,10.6]),(-4.8,[3.8,6.8,1.6,4.6,12.2]),(-3.8,[0.8,5.0,7.6,2.8,9.2]),(-2.8,[4.0,1.8,6.0,8.8,-2.0]),
 (-1.8,[2.6,5.6,0.2,7.4,10.8]),(-0.8,[4.4,1.2,6.8,3.2,8.6]),(0.2,[2.2,5.2,7.8,0.0,11.6]),(1.2,[3.8,6.2,1.4,9.4,4.6]),(2.2,[0.8,3.4,5.6,7.0,-1.0]),(3.2,[2.6,4.8,8.6,6.0,11.2]),
 (4.2,[1.0,3.8,7.2,5.4,9.8]),(5.2,[2.0,6.4,0.0,8.2,3.4]),(6.2,[4.2,1.4,5.8,10.2,-1.6]),(7.2,[3.0,6.8,1.8,8.8,4.8]),(8.2,[0.6,5.2,2.8,7.4,11.4]),(9.2,[3.8,1.2,6.0,9.0,-0.8]),
 (10.2,[2.2,4.6,7.8,0.4,5.8]),(11.2,[3.4,6.6,1.6,10.0]),(12.2,[0.8,4.2,7.0,2.8,-1.6]),(13.2,[5.6,2.0,8.8,3.8]),(14.2,[1.2,4.6,6.8,-0.6,10.4]),(15.2,[3.0,5.8,0.6,8.2]),
 (16.2,[2.0,4.8,7.4,-1.8]),(17.2,[3.6,6.2,0.8,9.6]),(18.2,[1.8,5.4,2.8,-0.4]),(19.2,[4.2,7.6,0.2,3.4]),(20.2,[2.0,5.8,8.8,-1.4]),(21.2,[3.6,0.8,6.4]),
 (22.2,[1.8,4.6,-0.6,8.0]),(23.2,[3.0,6.0,0.4]),(24.2,[4.6,1.6,7.8]),(25.2,[0.0,5.6,2.6]),(26.2,[4.0,-1.2,6.8]),(27.2,[2.2,5.2]),(28.2,[0.6,3.8,8.4]),
 (29.2,[2.8,6.2]),(30.2,[4.6,0.2]),(31.2,[2.4,5.8]),(32.4,[1.0]),(33.6,[3.6])]

# ---- Panel d: COL-feedback on ER-beliefs (Long-term) ----
bin_d_x = [-26.8, -20.8, -15.1, -11.3, -8.8, -5.6, -4.1, -2.1, -0.46, 1.26, 2.6, 4.1, 5.9, 7.4, 9.0, 10.7, 13.1, 16.3, 22.8]
bin_d_y = [3.68, 2.1, 1.58, -0.13, -0.39, -1.45, 2.37, 0.26, -0.39, -0.92, 0.66, 0.66, 2.9, 0.0, 1.05, -1.7, -3.4, -3.4, -2.2]
ols_d_x = [-43.2, 70.7]
ols_d_y = [3.55, -5.8]
raw_d_out = [(8.1,68.9),(5.0,67.6),(10.6,63.7),(14.1,61.6),(10.5,59.7),(-1.4,55.5),(10.4,54.5),(-27.1,54.5),(6.6,49.2),(15.9,48.3),
 (-8.2,46.7),(-15.7,46.3),(-1.8,49.2),(-27.0,42.1),(19.7,37.5),(-35.2,36.1),(-39.1,28.4),(-43.2,10.1),(44.6,22.4),(37.5,20.7),(46.9,18.7),
 (49.5,16.1),(49.8,13.7),(55.8,7.1),(46.0,3.6),(36.4,9.7),(40.8,14.5),(43.4,11.1),(40.4,-4.3),(51.4,-19.2),(49.8,-24.1),(70.7,-30.7),
 (43.0,-36.6),(43.7,-37.6),(34.0,-25.8),(34.4,-27.4),(26.3,-31.3),(12.7,-48.7),(8.3,-45.1),(0.9,-50.0),(-2.2,-47.1),(-5.5,-48.4),
 (-8.0,-46.4),(-13.7,-44.5),(-16.0,-43.8),(-41.5,-45.5),(-41.5,-32.9),(-41.2,-8.9),(-40.6,-8.3),(-27.4,-41.2),(-25.7,-41.2),(-24.0,-33.9),
 (-19.7,-36.8),(-34.3,-29.3),(-36.9,-19.5),(-29.7,-26.3),(-41.2,15.7),(-37.6,10.1),(-38.6,17.4),(-11.4,-42.5),(13.1,-42.5),(18.3,-36.6)]
raw_d_core = [(-40,5),(-39,-12),(-38,22),(-37.5,-3),(-36.5,-25),(-36,14),(-35.5,2),(-35,-15),(-34,27),(-33.5,-6),(-33,9),(-32.5,-20),
 (-32,18),(-31.5,-1),(-31,-33),(-30.5,11),(-30,-10),(-38.5,-20),(-34.5,-37),(-31.8,31),
 (-29.5,4),(-29,-17),(-28.5,21),(-28,-4),(-27.5,13),(-27,-27),(-26.5,7),(-26,-11),(-25.5,30),(-25,0),(-24.5,-22),(-24,17),(-23.5,-7),
 (-23,9),(-22.5,-31),(-22,25),(-21.5,-2),(-21,-15),(-20.5,12),(-20,-38),(-29.8,-35),(-26.2,36),(-23.2,-16),(-21.2,33),(-27.8,18),
 (-19.5,3),(-19,-9),(-18.5,20),(-18,-24),(-17.5,8),(-17,-3),(-16.5,28),(-16,-14),(-15.5,15),(-15,-30),(-14.5,1),(-14,22),(-13.5,-19),
 (-13,10),(-12.5,-6),(-12,35),(-11.5,-26),(-11,5),(-10.5,-12),(-10,18),(-19.2,-34),(-17.8,33),(-15.8,-40),(-14.2,-9),(-12.8,26),
 (-11.2,-35),(-10.2,40),(-18.8,12),(-16.2,-21),(-13.8,38),
 (-9.8,8),(-9.5,-4),(-9.2,24),(-9,-17),(-8.7,13),(-8.4,-28),(-8.1,2),(-7.8,30),(-7.5,-9),(-7.2,16),(-6.9,-22),(-6.6,6),(-6.3,-1),
 (-6,20),(-5.7,-35),(-5.4,11),(-5.1,-13),(-4.8,27),(-4.5,-5),(-4.2,3),(-3.9,-24),(-3.6,17),(-3.3,-40),(-3,9),(-2.7,-8),(-2.4,33),
 (-2.1,-16),(-1.8,14),(-1.5,-30),(-1.2,5),(-0.9,22),(-0.6,-3),(-0.3,-20),(-9.6,37),(-7,-40),(-4,44),(-1,-44),(-8,-12),(-5,-26),
 (-2,25),(-6.8,29),(-3.2,0),(-0.8,12),
 (0.3,10),(0.6,-11),(0.9,25),(1.2,2),(1.5,-25),(1.8,15),(2.1,-4),(2.4,33),(2.7,7),(3,-18),(3.3,19),(3.6,-1),(3.9,-33),(4.2,12),
 (4.5,28),(4.8,-9),(5.1,4),(5.4,-22),(5.7,21),(6,14),(6.3,-14),(6.6,38),(6.9,1),(7.2,-28),(7.5,17),(7.8,-6),(8.1,9),(8.4,-38),
 (8.7,25),(9,-2),(9.3,-19),(9.6,13),(9.9,30),(0.5,42),(1,-39),(2,-45),(3,45),(4,-28),(5,8),(6,-42),(7,42),(8,-15),(9,5),(0.8,18),
 (1.6,22),(2.6,-10),(3.4,26),(4.4,6),(5.2,16),(6.2,-5),(7.2,24),(8.2,-22),(9.2,19),(0.2,-17),(5.8,31),(7.6,11),(3.8,-24),(1.4,8),(2.2,-31),
 (10.3,4),(10.6,-12),(10.9,21),(11.2,-27),(11.5,10),(11.8,-4),(12.1,16),(12.4,-19),(12.7,27),(13,1),(13.3,-33),(13.6,12),(13.9,-8),
 (14.2,22),(14.5,-23),(14.8,6),(15.1,-15),(15.4,31),(15.7,-3),(16,14),(16.3,-36),(16.6,8),(16.9,-11),(17.2,20),(17.5,-26),(17.8,2),
 (18.1,-18),(18.4,25),(18.7,-6),(19,11),(19.3,-30),(19.6,17),(10.8,36),(12.5,-42),(14,40),(15.6,-40),(17,33),(18.8,-38),(11,-20),
 (13.5,18),(16.2,-22),
 (20.2,-9),(20.8,20),(21.4,3),(22,-22),(22.6,12),(23.2,-4),(23.8,27),(24.4,-16),(25,7),(25.6,-30),(26.2,15),(26.8,-11),(27.4,1),
 (28,22),(28.6,-20),(29.2,9),(29.8,-6),(21,-33),(24,-37),(27,-28),(23,35),(29,15),(20.5,31),(25.5,-2),
 (30.5,-14),(31.2,6),(32,-25),(32.8,17),(33.5,-3),(34.2,-16),(35,10),(35.8,-9),(36.6,2),(37.4,-21),(38.2,13),(39,-6),(31.5,25),
 (33,-33),(36,19),(39.5,5),(41,-2),(42.5,8),(44,-14),(45.5,1),(47,-8),(48.5,10),(50.5,-4),(53,2),
 (-4.6,10),(-3.8,22),(-2.9,4),(-2.2,16),(-1.4,28),(-0.7,7),(0.1,19),(0.9,-2),(1.7,30),(2.5,11),(3.3,3),(4.1,24),(4.9,15),
 (5.7,-3),(6.5,27),(7.3,6),(8.1,18),(8.9,0),(9.7,22),(10.5,13),(11.3,29),(12.1,5),(12.9,-1),(13.7,26),(14.5,14),(-4,-3),(-2.5,12),
 (-1,20),(0.6,6),(2,14),(3.5,9),(5,20),(6.8,13),(8.5,26),(10,8),(11.8,18),(13.2,10),(-3,7),(1.3,-6),(4.6,-6),(7,30),(9.4,-8),(-1.6,-9),
 (0.4,35),(3.2,37),(6.4,34),(9.8,36),
 (-4.5,15),(-3.5,26),(-2.5,8),(-1.5,19),(-0.5,31),(0.5,13),(1.5,3),(2.5,24),(3.5,16),(4.5,33),(5.5,11),(6.5,21),(7.5,-2),(8.5,16),
 (9.5,28),(10.5,4),(11.5,22),(12.5,13),(13.5,30),(14.5,-3),(-3.8,3),(-1,-5),(1,27),(3,1),(5,25),(7,9),(9,-10),(11,15),(13,-12),
 (-2,-14),(0,-18),(2,-24),(4,-12),(6,-20),(8,-26),(10,-16),(12,-8),(14,-18),(-4,-18)]
raw_d_cols = [(-42,[-20,8]),(-40.5,[-4,18,-30]),(-39,[10,-15,2]),(-37.5,[-24,6,25]),(-36,[-8,15,-35]),(-34.5,[3,-18,20,-2]),
 (-33,[-27,12,-10,30]),(-31.5,[5,-20,18,-38]),(-30,[-5,24,-14,8]),(-28.5,[14,-30,2,-8]),(-27,[-18,20,-2,34]),(-25.5,[8,-12,-26,16]),
 (-24,[-4,28,-36,10]),(-22.5,[18,-16,4,-24]),(-21,[-8,12,26,-40]),(-19.5,[2,-22,16,-12,38]),(-18,[10,-6,-30,22]),(-16.5,[-16,4,30,-42]),
 (-15,[14,-8,-20,6,24]),(-13.5,[-28,2,18,-12,32]),(-12,[6,-18,14,-4,-34]),(-10.5,[24,-10,2,30,-22]),(-9,[-2,16,-28,8,42]),(-7.5,[12,-14,22,-6,-32]),
 (-6,[4,-20,28,14,-8]),(-4.5,[-12,18,6,36,-38]),(-3,[22,-4,12,-24,30]),(-1.5,[8,-16,26,2,-34]),(0,[16,-8,34,4,-22,24]),(1.5,[-2,12,28,-14,40,20]),
 (3,[6,22,-6,14,-26,32]),(4.5,[18,0,-18,30,10,-40]),(6,[-10,24,8,16,-30,4]),(7.5,[2,20,-16,34,12,-4]),(9,[14,-24,26,-8,6,38]),(10.5,[-2,18,-14,30,-32,8]),
 (12,[10,-6,24,-20,2,34]),(13.5,[-12,14,-28,6,22]),(15,[4,-18,26,-6,12]),(16.5,[-24,18,0,-12,30]),(18,[8,-30,14,-2,24]),(19.5,[-10,20,4,-22]),
 (21,[12,-16,26,-4]),(22.5,[-26,6,-10,18]),(24,[2,-20,24,-34]),(25.5,[14,-8,-26,8]),(27,[-14,20,4,-36]),(28.5,[6,-24,14]),
 (30,[-8,18,-30,2]),(31.5,[10,-14,-2]),(33,[-20,6,22]),(34.5,[-6,14,-28]),(36,[2,-16,10]),(37.5,[-24,16,-4]),
 (39,[8,-12]),(40.5,[-20,4,18]),(42,[-6,12]),(43.5,[2,-18]),(45,[-10,8]),(46.5,[14,-24]),(48,[-2]),(50,[6,-12])]
raw_d_cols2 = [(-25,[4,-16,22,-30]),(-23.7,[12,-6,30,-20]),(-22.4,[-2,18,-12,8]),(-21.1,[6,-24,16,-4]),(-19.8,[20,-10,2,-32,28]),(-18.5,[-6,12,-18,6]),
 (-17.2,[14,-2,24,-26]),(-15.9,[0,-14,18,8,-36]),(-14.6,[10,-22,28,-6]),(-13.3,[-10,4,20,-30,14]),(-12,[22,-2,-16,8,30]),(-10.7,[-6,14,-24,4,36]),
 (-9.4,[2,20,-12,26,-34,10]),(-8.1,[16,-4,8,-20,32]),(-6.8,[-8,22,4,-28,12,-14]),(-5.5,[6,-2,18,30,-18,24]),(-4.2,[-6,12,26,-24,4,38]),(-2.9,[14,-10,32,2,-30,20]),
 (-1.6,[-2,10,24,-20,6,36]),(-0.3,[18,-12,4,28,-6,14]),(1,[-8,22,10,-26,34,2]),(2.3,[6,16,-16,28,-2,40]),(3.6,[20,-8,10,-30,34,4]),(4.9,[-12,26,2,14,-22,36]),
 (6.2,[10,-4,22,-18,30,6]),(7.5,[-10,16,26,-26,4,36]),(8.8,[20,-14,8,-2,32,14]),(10.1,[-6,24,-20,10,2,28]),(11.4,[14,-10,30,-28,6]),(12.7,[-4,20,8,-18,34]),
 (14,[2,-24,16,26,-8]),(15.3,[-14,10,22,-32,4]),(16.6,[18,-6,28,-20,2]),(17.9,[-10,14,-26,8]),(19.2,[4,-16,24,-2]),(20.5,[-22,12,-8,20]),
 (21.8,[8,-28,16,0]),(23.1,[-12,22,4,-20]),(24.4,[14,-6,-30,8]),(25.7,[-2,18,-16]),(27,[10,-22,2]),(28.3,[-8,16,-30]),(29.6,[4,-14,20])]

alpha_text = ["α = −0.003 (0.006)", "α = −0.011 (0.011)", "α = 0.020 (0.015)", "α = −0.082 (0.028)"]
n_text = ["N=2,160", "N=1,956", "N=2,160", "N=1,956"]
title_l1 = ["<b>a.</b> Effect of ER-feedback", "<b>b.</b> Effect of ER-feedback",
            "<b>c.</b> Effect of COL-feedback", "<b>d.</b> Effect of COL-feedback"]
title_l2 = ["on COL-beliefs (Short-term)", "on COL-beliefs (Long-term)",
            "on ER-beliefs (Short-term)", "on ER-beliefs (Long-term)"]
legend_labels = ["Raw data", "Binned Scatter", "OLS"]
x_ticks = [[-100, -50, 0, 50], [-100, -50, 0, 50], [-50, 0, 50, 100], [-50, 0, 50, 100]]
y_ticks = [[-40, -20, 0, 20, 40], [-100, -50, 0, 50], [-60, -40, -20, 0, 20, 40], [-50, 0, 50, 100]]
x_title = "Adjusted (Feedback Provided − Prior Belief)"
y_title = "Adjusted (Posterior Belief − Prior Belief)"

# ================= STYLE / LAYOUT =================
W, H = 1351, 1118
SANS = "Liberation Sans, Arial, sans-serif"
SERIF = "Liberation Serif, Times New Roman, serif"
FS = 16.5
RAW_COL = "#bebebe"

boxes = [(58, 641, 97.5, 499.3), (755.7, 1339.3, 97.5, 499.3),
         (58, 641, 670.7, 1070), (755.7, 1339.3, 670.7, 1070)]
x_ranges = [[-102.7, 55.8], [-102.5, 55.8], [-52.7, 102.5], [-52.8, 102.9]]
y_ranges = [[-49.3, 42.7], [-104.1, 59.2], [-63.1, 50.9], [-54.6, 103.8]]
title_cx = [325, 1020, 326, 1024]
title_cy = [(15, 53), (15, 53), (594, 631), (594, 631)]
n_left = [505, 1203, 509, 1203]


def fx(px):
    return px / W


def fy(py):
    return 1 - py / H


def expand(cols):
    return [(x, y) for x, ys in cols for y in ys]


def split(pts):
    return [p[0] for p in pts], [p[1] for p in pts]


panels = [
    (raw_a_out + raw_a_core + raw_a_mid + expand(raw_a_cols), bin_a_x, bin_a_y, ols_a_x, ols_a_y),
    (raw_b_out + raw_b_core + raw_b_mid + expand(raw_b_cols) + expand(raw_b_cols2), bin_b_x, bin_b_y, ols_b_x, ols_b_y),
    (raw_c_out + raw_c_tail + raw_c_core + raw_c_mid + expand(raw_c_cols) + expand(raw_c_cols2), bin_c_x, bin_c_y, ols_c_x, ols_c_y),
    (raw_d_out + raw_d_core + expand(raw_d_cols) + expand(raw_d_cols2), bin_d_x, bin_d_y, ols_d_x, ols_d_y),
]

fig = go.Figure()
annotations = []
shapes = []
layout_axes = {}

for i, (raw, bx, by, ox, oy) in enumerate(panels):
    suf = "" if i == 0 else str(i + 1)
    xa, ya = "x" + suf, "y" + suf
    L, R, T, B = boxes[i]
    rx, ry = split(raw)
    fig.add_trace(go.Scatter(x=rx, y=ry, mode="markers", xaxis=xa, yaxis=ya,
                             marker=dict(color=RAW_COL, size=3.8, line=dict(width=0)),
                             showlegend=False, hoverinfo="skip"))
    fig.add_trace(go.Scatter(x=ox, y=oy, mode="lines", xaxis=xa, yaxis=ya,
                             line=dict(color="#111111", width=1.6), showlegend=False))
    fig.add_trace(go.Scatter(x=bx, y=by, mode="markers", xaxis=xa, yaxis=ya,
                             marker=dict(color="#0a0a0a", size=7.5, line=dict(width=0)),
                             showlegend=False))

    axis_common = dict(showline=True, mirror=True, linecolor="black", linewidth=1,
                       ticks="outside", ticklen=7, tickcolor="#222", tickwidth=1,
                       showgrid=False, zeroline=False,
                       tickfont=dict(family=SANS, size=FS, color="black"), fixedrange=True)
    layout_axes["xaxis" + suf] = dict(axis_common, domain=[fx(L), fx(R)], range=x_ranges[i],
                                      tickvals=x_ticks[i], anchor=ya)
    layout_axes["yaxis" + suf] = dict(axis_common, domain=[fy(B), fy(T)], range=y_ranges[i],
                                      tickvals=y_ticks[i], anchor=xa, tickangle=-90)

    shapes.append(dict(type="line", xref=xa, yref=ya + " domain", x0=0, x1=0, y0=0, y1=1,
                       line=dict(color="#8c8c8c", width=1, dash="1px,2px"), layer="below"))
    shapes.append(dict(type="line", xref=xa + " domain", yref=ya, x0=0, x1=1, y0=0, y1=0,
                       line=dict(color="#8c8c8c", width=1, dash="1px,2px"), layer="below"))

    annotations.append(dict(text=title_l1[i], x=fx(title_cx[i]), y=fy(title_cy[i][0]), xref="paper", yref="paper",
                            showarrow=False, xanchor="center", yanchor="middle",
                            font=dict(family=SERIF, size=31, color="black")))
    annotations.append(dict(text=title_l2[i], x=fx(title_cx[i]), y=fy(title_cy[i][1]), xref="paper", yref="paper",
                            showarrow=False, xanchor="center", yanchor="middle",
                            font=dict(family=SERIF, size=31, color="black")))
    annotations.append(dict(text=x_title, x=fx((L + R) / 2), y=fy(B + 37.5), xref="paper", yref="paper",
                            showarrow=False, xanchor="center", yanchor="middle",
                            font=dict(family=SANS, size=FS, color="black")))
    annotations.append(dict(text=y_title, x=fx(L - 38), y=fy((T + B) / 2), xref="paper", yref="paper",
                            showarrow=False, xanchor="center", yanchor="middle", textangle=-90,
                            font=dict(family=SANS, size=FS, color="black")))
    annotations.append(dict(text=alpha_text[i], x=fx(R - 4), y=fy(B - 46.5), xref="paper", yref="paper",
                            showarrow=False, xanchor="right", yanchor="middle",
                            font=dict(family=SANS, size=FS, color="black")))
    annotations.append(dict(text=n_text[i], x=fx(n_left[i]), y=fy(B - 30), xref="paper", yref="paper",
                            showarrow=False, xanchor="left", yanchor="middle",
                            font=dict(family=SANS, size=FS, color="black")))
    row_y = [T + 22.5, T + 45.5, T + 69.3]
    for lab, yy in zip(legend_labels, row_y):
        annotations.append(dict(text=lab, x=fx(L + 87), y=fy(yy), xref="paper", yref="paper",
                                showarrow=False, xanchor="left", yanchor="middle",
                                font=dict(family=SANS, size=FS, color="black")))
    cx = L + 44.6
    for (rad, col, yy) in [(1.8, RAW_COL, row_y[0] - 1.5), (3.7, "#0a0a0a", row_y[1])]:
        shapes.append(dict(type="circle", xref="paper", yref="paper",
                           x0=fx(cx - rad), x1=fx(cx + rad), y0=fy(yy + rad), y1=fy(yy - rad),
                           fillcolor=col, line=dict(width=0)))
    shapes.append(dict(type="line", xref="paper", yref="paper", x0=fx(L + 14), x1=fx(L + 75.5),
                       y0=fy(row_y[2]), y1=fy(row_y[2]), line=dict(color="#111111", width=1.6)))

fig.update_layout(width=W, height=H, margin=dict(l=0, r=0, t=0, b=0),
                  paper_bgcolor="white", plot_bgcolor="white",
                  annotations=annotations, shapes=shapes, showlegend=False,
                  **layout_axes)

fig.write_html("out.html")
